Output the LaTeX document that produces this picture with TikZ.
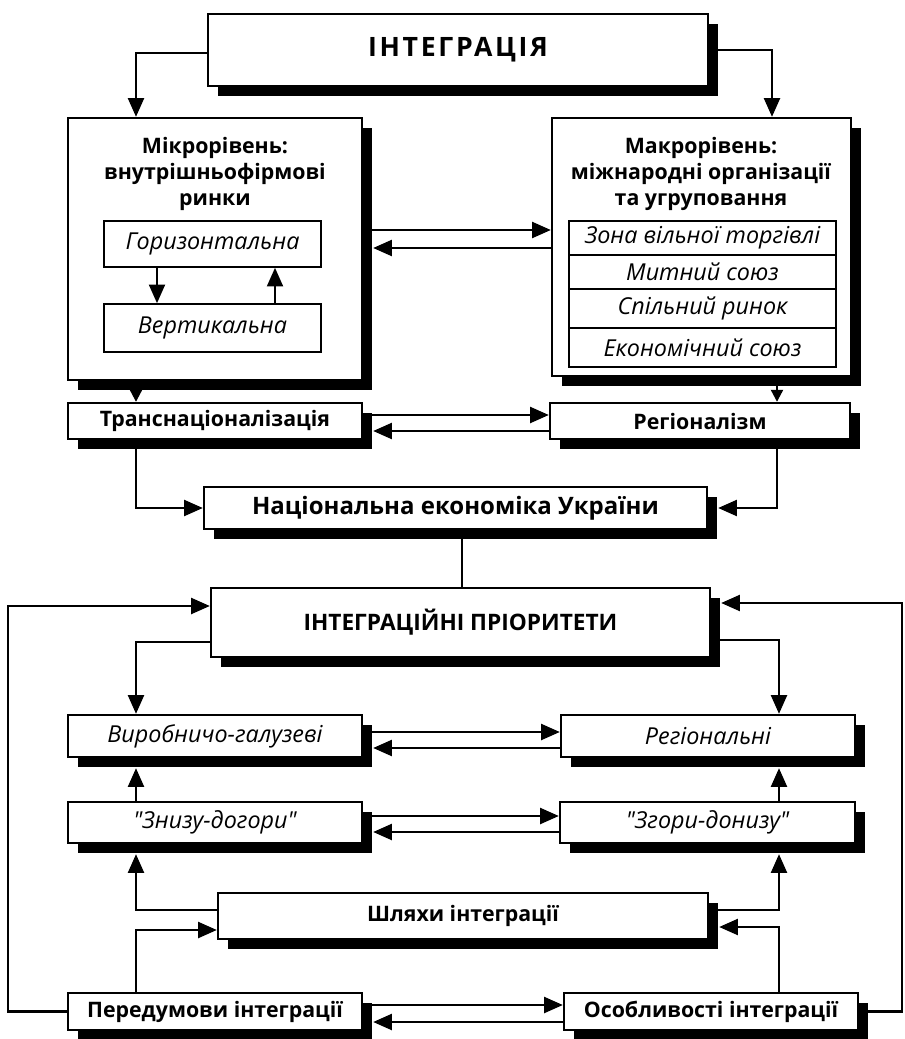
\documentclass[tikz,border=0pt]{standalone}
\usepackage{fontspec}
\setmainfont{Open Sans}
\usetikzlibrary{arrows.meta,fit,shadows}
\newcommand\myfs[2]{\fontsize{#1}{#2}\selectfont}

\begin{document}
\begin{tikzpicture}[x=0.75pt,y=-0.75pt,
  box/.style={draw, line width=1.8pt, fill=white, inner sep=0pt,
    drop shadow={shadow xshift=7.5pt, shadow yshift=-7.5pt, opacity=1, fill=black}},
  ibox/.style={draw, line width=1.2pt, fill=white, inner sep=0pt},
  arr/.style={-{Triangle[length=14pt,width=12pt]}, line width=1.6pt},
  sarr/.style={-{Triangle[length=9pt,width=9pt]}, line width=1.6pt},
  ln/.style={line width=1.6pt},
  ext/.style={shorten >=7.5pt},
  bt/.style={font=\myfs{16}{19.5}\bfseries, align=center, inner sep=0pt},
  btl/.style={font=\myfs{18}{20}\bfseries, align=center, inner sep=0pt},
  it/.style={font=\myfs{17.5}{20}\itshape, inner sep=0pt},
]
\useasboundingbox (0,0) rectangle (904,1039);

% --- upper part: integration levels
\node[box, fit={(208,14) (708,86)},
  label={[inner sep=0pt, font=\myfs{20}{22}\bfseries\addfontfeatures{LetterSpace=10}]center:ІНТЕГРАЦІЯ}] (integ) {};

\node[box, fit={(68,118) (362,380)}] (micro) {};
\node[bt] (mictxt) at (215,174) {Мікрорівень:\\внутрішньофірмові\\ринки};
\node[ibox, fit={(104,221) (321,267)}, label={[it]center:Горизонтальна}] (horiz) {};
\node[ibox, fit={(104,304) (321,352)}, label={[it]center:Вертикальна}] (vert) {};

\node[box, fit={(552,118) (851,376)}] (macro) {};
\node[bt] (mactxt) at (701,174) {Макрорівень:\\міжнародні організації\\та угруповання};
\node[ibox, fit={(569,221) (836,255)}, label={[it]center:Зона вільної торгівлі}] (zona) {};
\node[ibox, fit={(569,255) (836,289)}, label={[it]center:Митний союз}] (mytn) {};
\node[ibox, fit={(569,289) (836,328)}, label={[it]center:Спільний ринок}] (spil) {};
\node[ibox, fit={(569,328) (836,367)}, label={[it]center:Економічний союз}] (ekon) {};

\node[box, fit={(68,403) (362,439)}, label={[bt]center:Транснаціоналізація}] (trans) {};
\node[box, fit={(550,403) (850,439)}, label={[bt]center:Регіоналізм}] (regio) {};

\node[box, fit={(204,487) (707,529)}, label={[btl]center:Національна економіка України}] (nat) {};

% --- lower part: priorities
\node[box, fit={(211,588) (710,657)},
  label={[btl, font=\myfs{17}{20}\bfseries]center:ІНТЕГРАЦІЙНІ ПРІОРИТЕТИ}] (prio) {};
\node[box, fit={(68,715) (362,757)}, label={[it]center:Виробничо-галузеві}] (vyrob) {};
\node[box, fit={(561,715) (855,757)}, label={[it]center:Регіональні}] (reg2) {};
\node[box, fit={(68,802) (362,843)}, label={[it]center:\textquotedbl Знизу-догори\textquotedbl}] (znyzu) {};
\node[box, fit={(560,802) (855,843)}, label={[it]center:\textquotedbl Згори-донизу\textquotedbl}] (zgory) {};
\node[box, fit={(218,893) (708,939)}, label={[bt]center:Шляхи інтеграції}] (shl) {};
\node[box, fit={(68,993) (362,1030)}, label={[bt]center:Передумови інтеграції}] (perd) {};
\node[box, fit={(564,993) (858,1030)}, label={[bt]center:Особливості інтеграції}] (osob) {};

\coordinate (lr) at (8,606);
\coordinate (rr) at (902,603);

% --- connectors, upper part
\draw[arr] (integ.west |- 0,53) -| (micro.north -| 136,0);
\draw[arr] (integ.east |- 0,50) -| (macro.north -| 772,0);
\draw[arr] (micro.east |- 0,230) -- (macro.west |- 0,230);
\draw[arr,ext] (macro.west |- 0,248) -- (micro.east |- 0,248);
\draw[arr] (horiz.south -| 157,0) -- (vert.north -| 157,0);
\draw[arr] (vert.north -| 275,0) -- (horiz.south -| 275,0);
\draw[sarr] (micro.south -| 136,0) -- (trans.north -| 136,0);
\draw[sarr] (macro.south -| 777,0) -- (regio.north -| 777,0);
\draw[arr] (trans.east |- 0,415) -- (regio.west |- 0,415);
\draw[arr,ext] (regio.west |- 0,431) -- (trans.east |- 0,431);
\draw[arr] (trans.south -| 136,0) |- (nat.west);
\draw[arr,ext] (regio.south -| 777,0) |- (nat.east);
\draw[ln] (nat.south -| 462,0) -- (prio.north -| 462,0);

% --- connectors, lower part
\draw[arr] (perd.west) -| (lr) -- (prio.west |- lr);
\draw[arr,ext] (osob.east) -| (rr) -- (prio.east |- rr);
\draw[arr] (prio.west |- 0,642) -| (vyrob.north -| 136,0);
\draw[arr] (prio.east |- 0,640) -| (reg2.north -| 779,0);
\draw[arr] (vyrob.east |- 0,732) -- (reg2.west |- 0,732);
\draw[arr,ext] (reg2.west |- 0,748) -- (vyrob.east |- 0,748);
\draw[arr,ext] (znyzu.north -| 136,0) -- (vyrob.south -| 136,0);
\draw[arr,ext] (zgory.north -| 779,0) -- (reg2.south -| 779,0);
\draw[arr] (znyzu.east |- 0,816) -- (zgory.west |- 0,816);
\draw[arr,ext] (zgory.west |- 0,832) -- (znyzu.east |- 0,832);
\draw[arr,ext] (shl.west |- 0,910) -| (znyzu.south -| 136,0);
\draw[arr] (perd.north -| 136,0) |- (shl.west |- 0,930);
\draw[arr,ext] (shl.east |- 0,910) -| (zgory.south -| 779,0);
\draw[arr,ext] (osob.north -| 779,0) |- (shl.east |- 0,927);
\draw[arr] (perd.east |- 0,1005) -- (osob.west |- 0,1005);
\draw[arr,ext] (osob.west |- 0,1022) -- (perd.east |- 0,1022);
\end{tikzpicture}
\end{document}
